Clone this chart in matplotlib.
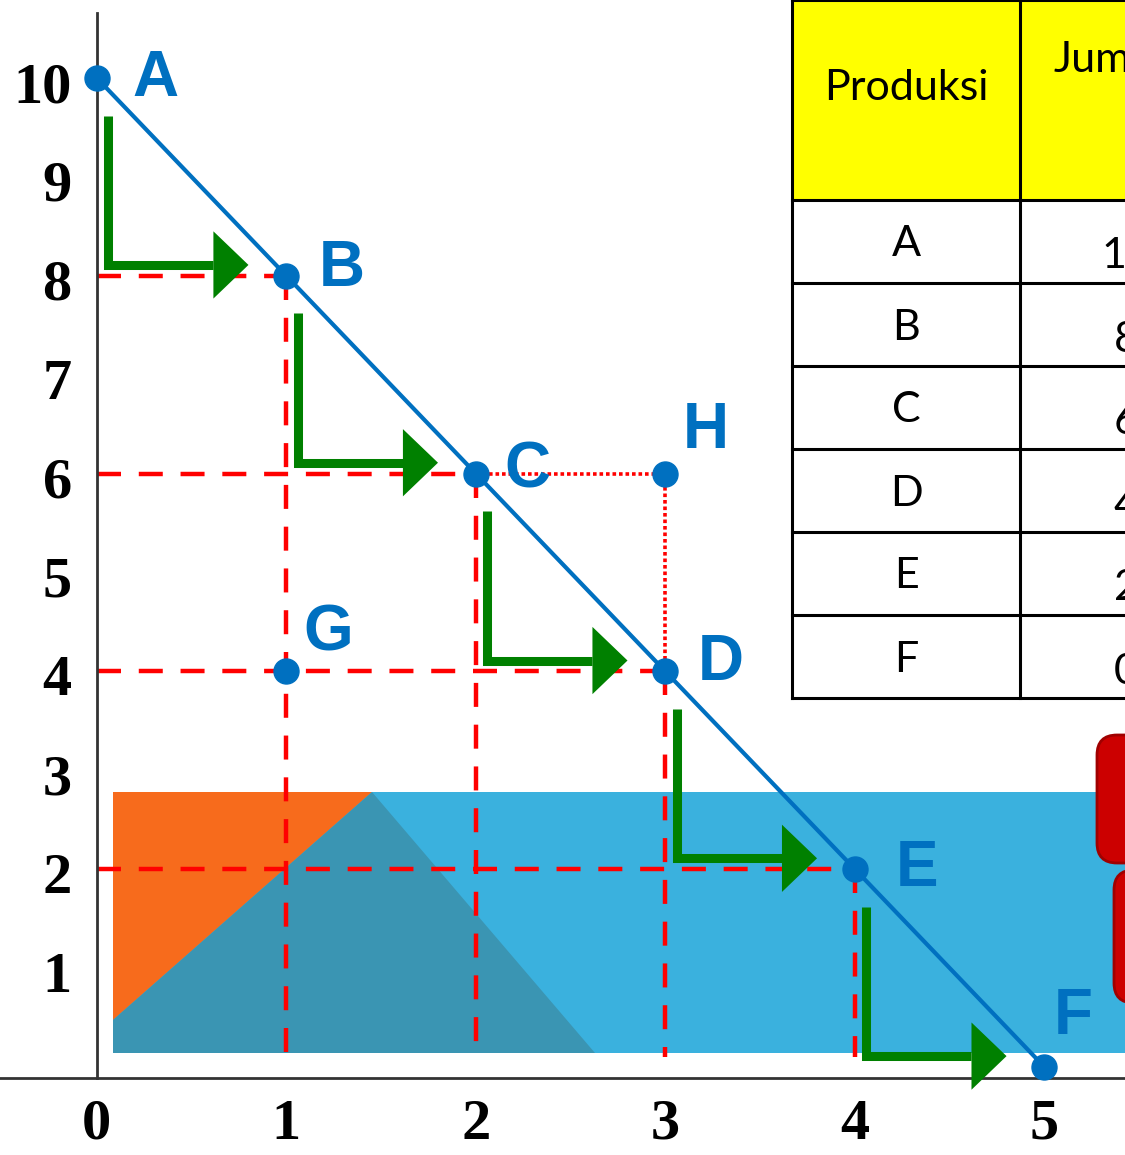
import numpy as np
import matplotlib
matplotlib.use("Agg")
import matplotlib.pyplot as plt
import matplotlib.transforms as mtransforms
from matplotlib.patches import Polygon, Rectangle, FancyBboxPatch

# -----------------------------
# Data
# -----------------------------
point_names = ["A", "B", "C", "D", "E", "F"]
point_x = [0, 1, 2, 3, 4, 5]
point_y = [10, 8, 6, 4, 2, 0]

extra_names = ["G", "H"]
extra_x = [1, 3]
extra_y = [4, 6]

x_ticks = [0, 1, 2, 3, 4, 5]
y_ticks = [1, 2, 3, 4, 5, 6, 7, 8, 9, 10]

table_header = ["Produksi", "Jumlah"]
table_rows = ["A", "B", "C", "D", "E", "F"]
table_values = ["10", "8", "6", "4", "2", "0"]

# label offsets (points) for the point names
label_offsets = {"A": (42, -1), "B": (40, 5), "C": (37, 2), "D": (40, 6),
                 "E": (45, 0), "F": (21, 36), "G": (30, 27), "H": (29, 31)}

BLUE = "#0070C0"
RED = "#FF0000"
GREEN = "#008000"

fig = plt.figure(figsize=(11.25, 11.55), dpi=100)

# -----------------------------
# Background decoration (pixel coordinates)
# -----------------------------
bg = fig.add_axes([0, 0, 1, 1], zorder=0)
bg.set_xlim(0, 1125)
bg.set_ylim(1155, 0)
bg.axis("off")

bg.add_patch(Rectangle((113, 792), 1030, 261, color="#3AB1DE", lw=0))
bg.add_patch(Polygon([(113, 792), (372, 792), (113, 1020)], color="#F76B1C", lw=0))
bg.add_patch(Polygon([(113, 1020), (372, 792), (595, 1053), (113, 1053)],
                     color="#3A95B3", lw=0))

for (bx, by, bh) in [(1097, 735, 128), (1114, 870, 133)]:
    bg.add_patch(FancyBboxPatch((bx, by), 60, bh,
                                boxstyle="round,pad=0,rounding_size=20",
                                fc="#CC0000", ec="#A00000", lw=2))

# table
col_edges = [792, 1020, 1200]
row_edges = [0, 200, 283, 366, 449, 532, 615, 698]
bg.add_patch(Rectangle((792, 0), 420, 200, color="#FFFF00", lw=0))
for ry in row_edges:
    bg.plot([792, 1200], [ry, ry], color="black", lw=2.2)
for cx in col_edges[:2]:
    bg.plot([cx, cx], [0, 698], color="black", lw=2.2)

bg.text(906, 88, table_header[0], ha="center", va="center",
        fontsize=31, family="Lato")
bg.text(1053, 60, table_header[1], ha="left", va="center",
        fontsize=31, family="Lato")
for i, (name, val) in enumerate(zip(table_rows, table_values)):
    yc = (row_edges[i + 1] + row_edges[i + 2]) / 2
    bg.text(906, yc + 3, name, ha="center", va="center", fontsize=31, family="Lato")
    bg.text(1126, yc + 15, val, ha="center", va="center", fontsize=31, family="Lato")

# -----------------------------
# Main plot (data coordinates)
# -----------------------------
ax = fig.add_axes([0, 0, 1, 1], zorder=1)
ax.patch.set_alpha(0)
ax.set_xlim(-0.511, 5.425)
ax.set_ylim(-0.89, 10.789)

for s in ["top", "right"]:
    ax.spines[s].set_visible(False)
ax.spines["left"].set_position(("data", 0))
ax.spines["left"].set_bounds(-0.11, 10.66)
ax.spines["bottom"].set_position(("data", -0.11))
for s in ["left", "bottom"]:
    ax.spines[s].set_linewidth(2)
    ax.spines[s].set_color("#333333")

ax.set_xticks(x_ticks)
ax.set_yticks(y_ticks)
ax.tick_params(axis="both", length=0, labelsize=42)
ax.tick_params(axis="y", pad=18)
ax.tick_params(axis="x", pad=15)
shift_down = mtransforms.ScaledTranslation(0, -0.04, fig.dpi_scale_trans)
for lbl in ax.get_xticklabels() + ax.get_yticklabels():
    lbl.set_fontfamily("Liberation Serif")
    lbl.set_fontweight("bold")
for lbl in ax.get_yticklabels():
    lbl.set_transform(lbl.get_transform() + shift_down)

# red guide lines
dash = (0, (5.4, 4))
for x, y in zip(point_x[1:5], point_y[1:5]):
    ax.plot([0, x], [y, y], color=RED, lw=3.2, linestyle=dash, zorder=2)
    ax.plot([x, x], [y, 0.1], color=RED, lw=3.2, linestyle=dash, zorder=2)

dot = (0, (1, 0.8))
ax.plot([point_x[2], extra_x[1]], [point_y[2], extra_y[1]],
        color=RED, lw=2.6, linestyle=dot, zorder=2)
ax.plot([extra_x[1], point_x[3]], [extra_y[1], point_y[3]],
        color=RED, lw=2.6, linestyle=dot, zorder=2)

# frontier line
ax.plot(point_x, point_y, color=BLUE, lw=3, zorder=3)

# green step arrows
head_len, head_half = 0.185, 0.34
for i in range(len(point_x) - 1):
    xv = point_x[i] + 0.06
    ytop = point_y[i] - 0.38
    ybot = point_y[i + 1] + 0.11
    tip = point_x[i + 1] - 0.2
    ax.plot([xv, xv, tip - head_len], [ytop, ybot, ybot], color=GREEN,
            lw=6.5, solid_joinstyle="miter", solid_capstyle="butt", zorder=4)
    ax.add_patch(Polygon([(tip - head_len, ybot + head_half), (tip, ybot),
                          (tip - head_len, ybot - head_half)],
                         color=GREEN, lw=0, zorder=4))

# points and labels
all_names = point_names + extra_names
all_x = point_x + extra_x
all_y = point_y + extra_y
ax.plot(all_x, all_y, "o", color=BLUE, ms=18, zorder=5)
for n, x, y in zip(all_names, all_x, all_y):
    ax.annotate(n, (x, y), xytext=label_offsets[n], textcoords="offset points",
                ha="center", va="center", fontsize=46, fontweight="bold",
                color=BLUE, family="Liberation Sans", zorder=6)

fig.savefig("out.png", dpi=100)
